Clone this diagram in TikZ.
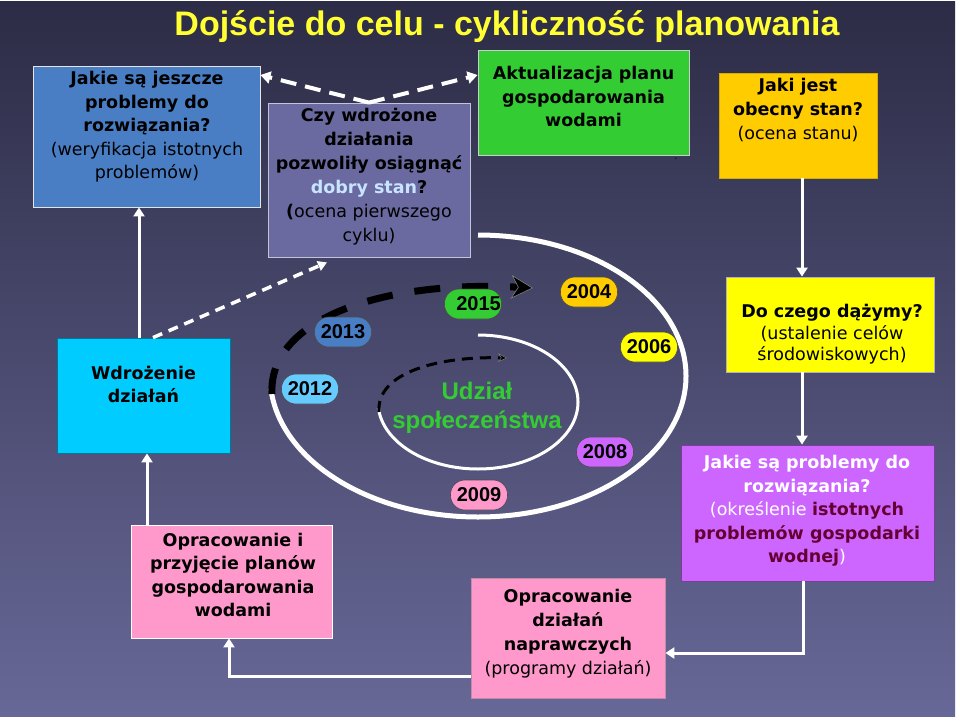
\documentclass[tikz,border=0pt]{standalone}
\usepackage{fontspec}
\setmainfont{DejaVu Sans}
\newfontfamily\arialf{Liberation Sans}
\usetikzlibrary{arrows.meta}
\definecolor{bgtop}{RGB}{44,44,70}
\definecolor{bgbot}{RGB}{104,104,152}
\definecolor{cblue}{RGB}{74,126,196}
\definecolor{cgray}{RGB}{106,106,160}
\definecolor{cgreen}{RGB}{51,204,51}
\definecolor{corange}{RGB}{255,204,0}
\definecolor{cyellow}{RGB}{255,255,0}
\definecolor{cpurple}{RGB}{204,102,255}
\definecolor{cpink}{RGB}{255,153,204}
\definecolor{ccyan}{RGB}{0,204,255}
\definecolor{cmaroon}{RGB}{102,0,51}
\definecolor{clblue}{RGB}{200,228,255}
\definecolor{cskyp}{RGB}{102,204,255}
\definecolor{ctitle}{RGB}{255,255,51}
\begin{document}
\begin{tikzpicture}[x=1pt,y=-1pt,
  box/.style={draw, line width=0.8pt, inner sep=0pt},
  txt/.style={align=center, font=\fontsize{17.5}{23.5}\selectfont, inner sep=0pt, text=black},
  pill/.style={draw=black!70, line width=0.6pt, rounded corners=14.5pt, minimum width=57pt, minimum height=30pt, inner sep=0pt, font=\arialf\bfseries\fontsize{20}{22}\selectfont, text=black},
  warrow/.style={draw=white, line width=3pt, -{Triangle[width=11pt,length=9pt]}},
  wdash/.style={draw=white, line width=3.5pt, dash pattern=on 10pt off 7pt, -{Triangle[width=10pt,length=9pt]}},
  wdashb/.style={draw=white, line width=4pt, dash pattern=on 16pt off 9pt, -{Triangle[width=12pt,length=10pt]}},
  bigdash/.style={draw=black, line width=7pt, dash pattern=on 26pt off 22pt, -{Stealth[length=22pt,width=24pt,inset=7pt,color=gray,fill=black,line width=0.6pt]}},
  smalldash/.style={draw=black, line width=3pt, dash pattern=on 11pt off 7pt, -{Stealth[length=9pt,width=9pt,inset=3pt,color=gray,fill=black,line width=0.5pt]}}
]
\useasboundingbox (0,0) rectangle (960,720);
\fill[white] (0,0) rectangle (960,720);
\shade[top color=bgtop, bottom color=bgbot] (0,1) rectangle (955,716);

% title
\node[anchor=base, font=\arialf\bfseries\fontsize{34}{38}\selectfont, text=ctitle, inner sep=0pt] (title) at (507,35) {Dojście do celu - cykliczność planowania};

% boxes
\node[box, draw=white!90!black, fill=cblue, minimum width=227pt, minimum height=141pt] (weryf) at (146.5,136.5) {};
\node[box, draw=white!60!cgray, fill=cgray, minimum width=202pt, minimum height=154pt] (ocena) at (369,180) {};
\node[box, draw=white!80!black, fill=cgreen, minimum width=211pt, minimum height=105pt] (aktual) at (583.5,102.5) {};
\node[box, draw=corange!85!black, fill=corange, minimum width=158pt, minimum height=105pt] (stan) at (798,125.5) {};
\node[box, draw=gray!60, fill=cyellow, minimum width=208pt, minimum height=95pt] (cel) at (830,324.5) {};
\node[box, draw=cpurple!60!black, fill=cpurple, minimum width=253pt, minimum height=136pt] (probl) at (807.5,513) {};
\node[box, draw=cpink!50!gray, fill=cpink, minimum width=194pt, minimum height=120pt] (napr) at (568,638) {};
\node[box, draw=white, fill=cpink, minimum width=201pt, minimum height=113pt] (oplan) at (231.5,581.5) {};
\node[box, draw=ccyan!60!black, fill=ccyan, minimum width=173pt, minimum height=115pt] (wdroz) at (143.5,395.5) {};

% box texts
\node[txt] (weryft) at (147,127) {\textbf{Jakie są jeszcze}\\\textbf{problemy do}\\\textbf{rozwiązania?}\\(weryfikacja istotnych\\problemów)};
\node[txt, font=\fontsize{17.5}{24}\selectfont] (ocenat) at (369,176.5) {\textbf{Czy wdrożone}\\\textbf{działania}\\\textbf{pozwoliły osiągnąć}\\\textbf{\textcolor{clblue}{dobry stan}?}\\\textbf{(}ocena pierwszego\\cyklu)};
\node[txt] (aktualt) at (583.5,96.5) {\textbf{Aktualizacja planu}\\\textbf{gospodarowania}\\\textbf{wodami}};
\node[inner sep=0pt, font=\fontsize{10}{10}\selectfont] (dot) at (676,159) {.};
\node[txt, font=\fontsize{17.5}{24}\selectfont] (stant) at (798,110) {\textbf{Jaki jest}\\\textbf{obecny stan?}\\(ocena stanu)};
\node[txt, font=\fontsize{17.5}{21.5}\selectfont] (celt) at (832,334.5) {\textbf{Do czego dążymy?}\\(ustalenie celów\\środowiskowych)};
\node[txt, text=white] (problt) at (807,511) {\textbf{Jakie są problemy do}\\\textbf{rozwiązania?}\\(określenie \textbf{\textcolor{cmaroon}{istotnych}}\\\textbf{\textcolor{cmaroon}{problemów gospodarki}}\\\textbf{\textcolor{cmaroon}{wodnej}})};
\node[txt, font=\fontsize{17.5}{24}\selectfont] (naprt) at (568,634) {\textbf{Opracowanie}\\\textbf{działań}\\\textbf{naprawczych}\\(programy działań)};
\node[txt] (oplant) at (233,575) {\textbf{Opracowanie i}\\\textbf{przyjęcie planów}\\\textbf{gospodarowania}\\\textbf{wodami}};
\node[txt] (wdrozt) at (143.5,384.5) {\textbf{Wdrożenie}\\\textbf{działań}};

% cycle ellipses
\draw[white, line width=5pt] (478,235) arc[start angle=-90, end angle=175, x radius=208, y radius=141];
\draw[bigdash] (272,394) .. controls (268,320) and (380,280) .. (533,288);
\draw[white, line width=3pt] (478,335) arc[start angle=-90, end angle=175, x radius=100, y radius=67];
\draw[smalldash] (379,412) .. controls (376,372) and (440,356) .. (507,358);

\node[align=center, inner sep=0pt, text=cgreen, font=\arialf\bfseries\fontsize{24}{29}\selectfont] (udzial) at (477,408) {Udział\\społeczeństwa};

% year pills
\node[pill, fill=cblue] (y2013) at (343,332) {2013};
\node[pill, fill=cskyp] (y2012) at (310,389) {2012};
\node[pill, fill=cgreen] (y2015) at (473,304) {\hspace*{11pt}2015};
\node[pill, fill=corange] (y2004) at (589,292) {2004};
\node[pill, fill=cyellow] (y2006) at (649,347) {2006};
\node[pill, fill=cpurple] (y2008) at (605,452) {2008};
\node[pill, fill=cpink] (y2009) at (479,495) {2009};

% connectors
\draw[warrow] ([xshift=4pt]stan.south) -- ([xshift=4pt]stan.south |- cel.north);
\draw[warrow] ([xshift=-28pt]cel.south) -- ([xshift=-28pt]cel.south |- probl.north);
\draw[warrow] ([xshift=-4.5pt]probl.south) |- ([yshift=-15pt]napr.east);
\draw[warrow] ([yshift=-38pt]napr.west) -| ([xshift=-2.5pt]oplan.south);
\draw[warrow] ([xshift=-84.5pt]oplan.north) -- ([xshift=-84.5pt]oplan.north |- wdroz.south);
\draw[warrow] ([xshift=-4.5pt]wdroz.north) -- ([xshift=-4.5pt]wdroz.north |- weryf.south);
\draw[wdash] ([xshift=9.5pt]wdroz.north) -- ([xshift=-42pt,yshift=-5pt]ocena.south);
\draw[wdashb] (ocena.north) -- ([yshift=61.5pt]weryf.east);
\draw[wdashb] (ocena.north) -- ([yshift=27.5pt]aktual.west);
\end{tikzpicture}
\end{document}
